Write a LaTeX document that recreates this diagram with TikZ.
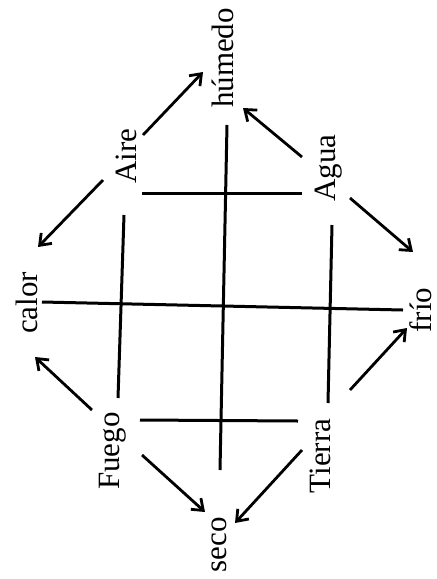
\documentclass[tikz,border=0pt]{standalone}
\usepackage{fontspec}
\setmainfont{Liberation Serif}
\usetikzlibrary{arrows.meta}
\tikzset{
  quality/.style={rotate=90, inner sep=2pt, font=\fontsize{15.5}{18}\selectfont},
  element/.style={rotate=90, inner sep=2pt, font=\fontsize{15.5}{18}\selectfont},
  gridline/.style={line width=1.5pt},
  flowarrow/.style={-{Straight Barb[length=5pt,width=7.5pt,line width=1.4pt]}, line width=1.4pt}
}
\begin{document}
\begin{tikzpicture}[x=0.5pt, y=-0.5pt]
  \useasboundingbox (0,0) rectangle (436,579);
  % qualities
  \node[quality] (humedo) at (223,58) {húmedo};
  \node[quality] (calor) at (27,303) {calor};
  \node[quality] (frio) at (421,310) {frío};
  \node[quality] (seco) at (219,545) {seco};
  % elements
  \node[element] (aire) at (126,156) {Aire};
  \node[element] (agua) at (329,168) {Agua};
  \node[element] (fuego) at (113,451) {Fuego};
  \node[element] (tierra) at (320,456) {Tierra};
  % cross lines
  \coordinate (t1) at (142,193);  \coordinate (t2) at (302,193);
  \coordinate (c1) at (227,125);  \coordinate (c2) at (220,470);
  \coordinate (l1) at (124,215);  \coordinate (l2) at (118,398);
  \coordinate (r1) at (332,225);  \coordinate (r2) at (328,403);
  \coordinate (m1) at (42,302);   \coordinate (m2) at (403,310);
  \coordinate (b1) at (140,420);  \coordinate (b2) at (298,421);
  \draw[gridline] (t1) -- (t2);
  \draw[gridline] (c1) -- (c2);
  \draw[gridline] (l1) -- (l2);
  \draw[gridline] (r1) -- (r2);
  \draw[gridline] (m1) -- (m2);
  \draw[gridline] (b1) -- (b2);
  % arrows
  \draw[flowarrow] ([shift={(17,-21)}]aire.center) -- ([shift={(-20,14)}]humedo.center);
  \draw[flowarrow] ([shift={(-27,-11)}]agua.center) -- ([shift={(20,50)}]humedo.center);
  \draw[flowarrow] ([shift={(-23,24)}]aire.center) -- ([shift={(11,-56)}]calor.center);
  \draw[flowarrow] ([shift={(21,30)}]agua.center) -- ([shift={(-8,-58)}]frio.center);
  \draw[flowarrow] ([shift={(-21,-41)}]fuego.center) -- ([shift={(8,54)}]calor.center);
  \draw[flowarrow] ([shift={(30,-66)}]tierra.center) -- ([shift={(-14,18)}]frio.center);
  \draw[flowarrow] ([shift={(29,4)}]fuego.center) -- ([shift={(-14,-33)}]seco.center);
  \draw[flowarrow] ([shift={(-18,-6)}]tierra.center) -- ([shift={(16,-22)}]seco.center);
\end{tikzpicture}
\end{document}
